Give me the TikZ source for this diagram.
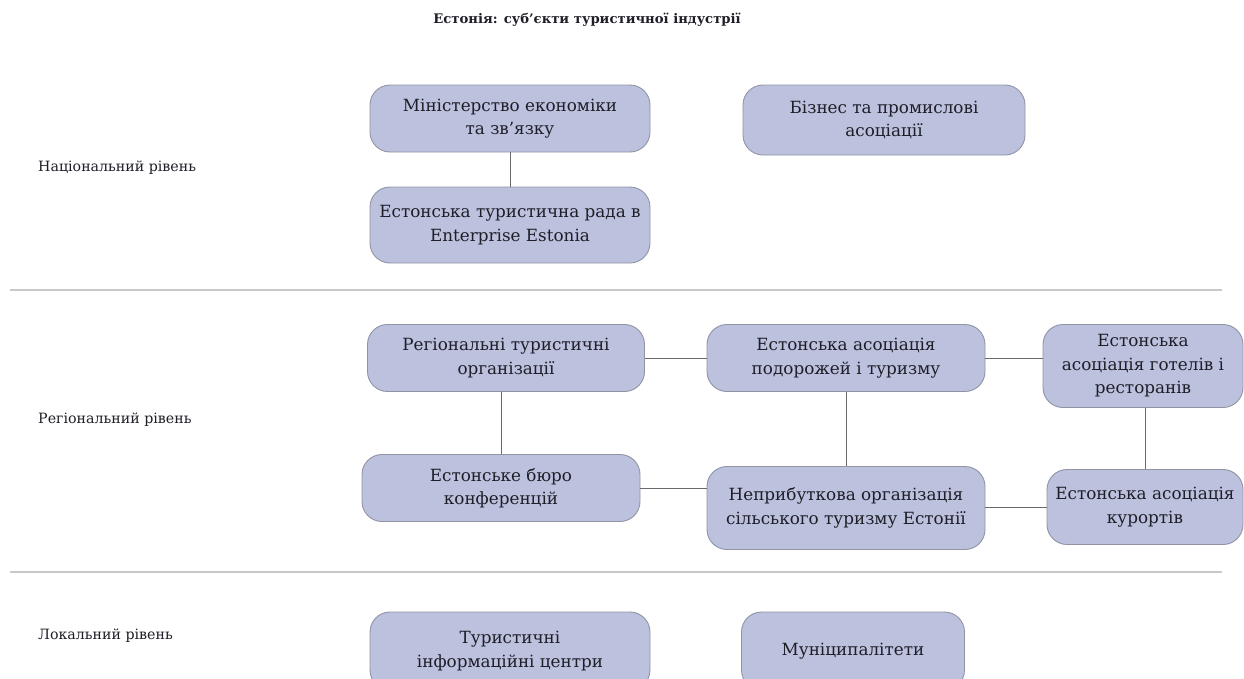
\documentclass[tikz,border=0pt]{standalone}
\usepackage{fontspec}
\setmainfont{DejaVu Serif}
\definecolor{boxfill}{RGB}{188,193,222}
\definecolor{boxdraw}{RGB}{145,148,165}
\definecolor{txt}{RGB}{30,30,40}
\definecolor{conn}{RGB}{105,105,110}
\definecolor{sep}{RGB}{200,200,200}
\tikzset{
  orgbox/.style={draw=boxdraw, line width=0.9pt, fill=boxfill, rounded corners=20pt,
    align=center, text=txt, font=\fontsize{16.8}{23.5}\selectfont, inner sep=0pt},
  lvl/.style={anchor=west, text=txt, font=\fontsize{14.2}{18}\selectfont, inner sep=0pt},
  link/.style={draw=conn, line width=0.9pt},
  sepline/.style={draw=sep, line width=1.5pt}
}
\begin{document}
\begin{tikzpicture}[x=1pt,y=-1pt]
\useasboundingbox (0,0) rectangle (1244,678);
\clip (0,0) rectangle (1244,678);
\fill[white] (0,0) rectangle (1244,678);

% title
\node[text=txt, font=\bfseries\fontsize{13.2}{15}\selectfont, inner sep=0pt] (title) at (587,20) {Естонія: суб'єкти туристичної індустрії};

% level labels
\node[lvl] (lnat) at (38,168) {Національний рівень};
\node[lvl] (lreg) at (38,420) {Регіональний рівень};
\node[lvl] (lloc) at (38,636) {Локальний рівень};

% separators
\coordinate (s1a) at (10,290); \coordinate (s1b) at (1222,290);
\coordinate (s2a) at (10,572); \coordinate (s2b) at (1222,572);
\draw[sepline] (s1a) -- (s1b);
\draw[sepline] (s2a) -- (s2b);

% national
\node[orgbox, minimum width=280pt, minimum height=67pt] (min) at (510,118.5) {Міністерство економіки\\та зв'язку};
\node[orgbox, minimum width=280pt, minimum height=76pt] (rada) at (510,225) {Естонська туристична рада в\\Enterprise Estonia};
\node[orgbox, minimum width=282pt, minimum height=70pt] (biz) at (884,120) {Бізнес та промислові\\асоціації};

% regional
\node[orgbox, minimum width=277pt, minimum height=67pt] (reg) at (506,358) {Регіональні туристичні\\організації};
\node[orgbox, minimum width=278pt, minimum height=67pt] (pod) at (846,358) {Естонська асоціація\\подорожей і туризму};
\node[orgbox, minimum width=200pt, minimum height=83pt] (hot) at (1143,366) {Естонська\\асоціація готелів і\\ресторанів};
\node[orgbox, minimum width=278pt, minimum height=67pt] (bur) at (501,488) {Естонське бюро\\конференцій};
\node[orgbox, minimum width=278pt, minimum height=83pt] (nep) at (846,508) {Неприбуткова організація\\сільського туризму Естонії};
\node[orgbox, minimum width=196pt, minimum height=75pt] (kur) at (1145,507) {Естонська асоціація\\курортів};

% local
\node[orgbox, minimum width=280pt, minimum height=78pt] (tur) at (510,651) {Туристичні\\інформаційні центри};
\node[orgbox, minimum width=223pt, minimum height=78pt] (mun) at (853,651) {Муніципалітети};

% connectors
\draw[link] (min.south) -- (rada.north);
\draw[link] (reg.east) -- (pod.west);
\draw[link] (pod.east) -- (pod.east -| hot.west);
\draw[link] (bur.north) -- (bur.north |- reg.south);
\draw[link] (pod.south) -- (nep.north);
\draw[link] (kur.north) -- (kur.north |- hot.south);
\draw[link] (bur.east) -- (bur.east -| nep.west);
\draw[link] (kur.west) -- (kur.west -| nep.east);
\end{tikzpicture}
\end{document}
